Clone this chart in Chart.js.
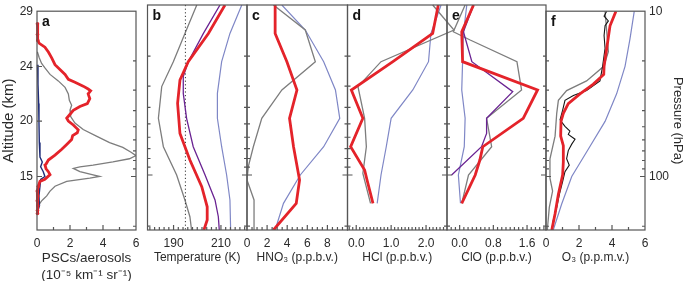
<!DOCTYPE html>
<html><head><meta charset="utf-8">
<script src="https://cdn.jsdelivr.net/npm/chart.js@4.4.1/dist/chart.umd.min.js"></script>
<style>
html,body{margin:0;padding:0;background:#fff;}
#wrap{position:relative;width:685px;height:281px;overflow:hidden;}
canvas{position:absolute;left:0;top:0;}
</style></head>
<body><div id="wrap">
<canvas id="pa" width="685" height="281"></canvas>
<canvas id="pb" width="685" height="281"></canvas>
<canvas id="pc" width="685" height="281"></canvas>
<canvas id="pd" width="685" height="281"></canvas>
<canvas id="pe" width="685" height="281"></canvas>
<canvas id="pf" width="685" height="281"></canvas>
</div>
<script>
// ---------- vertical axis (pressure, hPa) ----------
const pressureRange = [10, 210.7];
const pressureTicks = [10, 100];
const altitudeLabels = ['29', '24', '20', '15'];
const altitudeTickPressures = [10, 21.6, 46.2, 100];
const pressureMinorTicks = [20, 30, 40, 50, 60, 70, 80, 90, 200];

// ---------- panel a: PSCs / aerosols ----------
const aTicks = [0, 2, 4, 6];
const aRedX = [0.03,0.03,0.05,0.14,0.48,0.69,0.89,1.09,1.39,1.7,1.9,2.3,2.8,3.1,3.25,3.1,3.2,3.05,2.6,2.2,1.9,1.8,1.9,2.2,2.5,2.44,2.16,2.1,1.8,1.5,1.09,0.69,0.55,0.48,0.55,0.69,0.79,0.48,0.18,0.08,0.02,0.05,0.02,0.05,0.03,0.03];
const aRedP = [11.93,13.84,15.02,15.65,16.5,17.67,19.15,21.07,22.54,24.12,25.81,26.9,28.4,29.56,30.3,31.62,33.84,36.22,37.7,39.8,43.2,44.38,46.2,48.8,52.2,54.38,56.6,59.8,64.0,68.5,74.3,79.5,84.0,85.1,89.8,93.5,97.4,104.1,107.0,114.5,122.5,131.1,140.3,150.2,160.7,167.3];
const aGrayX = [0.02,0.14,0.28,0.48,0.79,1.29,1.7,1.9,1.96,2.1,2.0,2.04,2.3,2.8,3.6,4.4,5.2,5.7,6.0,5.6,4.6,3.4,2.6,2.2,2.6,3.4,3.8,3.2,1.8,1.09,0.79,0.59,0.38,0.28,0.14,0.08];
const aGrayP = [17.6,19.2,20.7,22.05,24.12,26.4,28.9,31.62,34.6,37.1,39.7,43.4,47.5,52.0,57.0,62.3,66.6,71.3,74.8,78.1,81.65,85.4,87.4,89.4,93.5,97.8,100,102.3,107,114.5,122.5,131.1,137.2,140.3,146.8,153.8];
const aNavyX = [0.03,0.06,0.1,0.12,0.14,0.18,0.32,0.22,0.38,0.48,0.22,0.18,0.12,0.15,0.06];
const aNavyP = [21.07,27.62,36.22,47.49,62.27,76.3,81.65,87.37,93.5,100,104.1,114.5,131.1,150.2,160.7];

// ---------- panel b: temperature ----------
const bTicks = [190, 210];
const bNatTemp = 195;
const bGrayT = [199.8,194.8,189.9,185,183.6,185.7,191.3,194.8,196.9,197.6];
const bGrayP = [10,14.7,21.55,30.2,46.4,68.2,100,140.3,176.0,210.7];
const bPurpleT = [209.6,202.6,196.2,194.1,194.1,195.5,198.3,203.3,207.5,208.9,209.3];
const bPurpleP = [10,14.7,21.55,26.4,33.1,46.4,68.2,100,140.3,176.0,210.7];
const bRedT = [211.7,204.7,196.2,192.7,191.7,192.7,196.9,201.9,204.2,204.2,202.8];
const bRedP = [10,14.7,21.55,27.62,37.9,57.0,81.65,117.2,153.8,184.0,210.7];
const bBlueT = [218.8,213.8,210.3,208.5,208.5,210.3,212.4,213.8,214.1];
const bBlueP = [10,14.7,21.55,33.1,46.4,68.2,100,140.3,210.7];

// ---------- panel c: HNO3 ----------
const cTicks = [0, 2, 4, 6, 8];
const cRedX = [2.8,2.8,3.97,4.97,4.23,4.63,5.23,4.9,2.63];
const cRedP = [10,14.7,21.55,31.62,46.4,68.2,107,146.8,210.7];
const cGrayX = [2.63,5.8,6.8,3.47,1.47,0.63,0.13,0.0,0.7,0.7];
const cGrayP = [10,14.03,21.55,31.62,46.4,68.2,89.4,107,140.3,210.7];
const cBlueX = [3.47,5.8,7.63,8.8,9.23,7.63,5.3,3.63,2.8];
const cBlueP = [10,14.03,21.55,31.62,46.4,68.2,100,146.8,210.7];

// ---------- panel d: HCl ----------
const dTicks = [0, 1, 2];
const dRedX = [2.35,2.19,1.05,-0.14,0.19,-0.16,0.24,0.31,0.48];
const dRedP = [10,14.7,21.55,31.62,46.4,68.2,93.5,107,146.8];
const dGrayX = [2.19,2.8,0.71,0.05,0.24,0.29,0.19,0.41];
const dGrayP = [10,14.03,21.55,30.2,46.4,68.2,97.8,146.8];
const dBlueX = [2.43,2.14,2.07,1.62,1.0,0.86,0.71,0.6];
const dBlueP = [10,14.7,21.55,31.62,46.4,68.2,100,146.8];

// ---------- panel e: ClO ----------
const eTicks = [0, 0.8, 1.6];
const eRedX = [0.33,0.05,0.07,1.85,1.51,0.55,0.48,0.37,0.05];
const eRedP = [10,14.36,21.55,31.62,46.4,68.2,81.65,100,146.8];
const eGrayX = [0.13,-0.15,0.25,1.36,1.47,0.64,0.76,0.21,0.05];
const eGrayP = [10,14.36,16.07,21.55,31.62,46.4,68.2,100,146.8];
const ePurpleX = [0.33,0.09,0.29,1.26,0.64,0.64,0.52,-0.19];
const ePurpleP = [10,14.36,21.55,32.35,46.4,57.0,68.2,100];
const eBlueX = [0.17,0.09,0.05,0.13,0.11,-0.03,0.02];
const eBlueP = [10,14.7,31.62,46.4,68.2,100,146.8];

// ---------- panel f: O3 ----------
const fTicks = [0, 2, 4, 6];
const fRedX = [4.24,3.88,3.52,3.5,2.87,2.06,1.35,1.05,0.91,0.89,1.05,1.05,1.01,0.75,0.55,0.35];
const fRedP = [10,12.25,21.55,24.12,27.62,31.62,36.22,41.47,46.4,57.0,65.1,81.65,97.8,128.2,168.0,210.7];
const fBlackX = [3.68,3.52,3.78,3.58,3.52,3.58,3.43,3.27,2.46,1.66,1.15,1.01,0.85,1.15,1.45,1.35,1.76,1.56,1.35,1.25,1.41,1.15,1.01,0.81,0.65,0.44,0.35];
const fBlackP = [10,10.7,11.45,12.25,14.03,16.8,21.55,26.4,30.2,32.35,34.6,39.7,45.4,49.7,53.2,55.6,59.5,63.7,69.7,78.1,85.4,93.5,107,128.2,153.8,184.0,210.7];
const fGrayX = [3.58,3.78,3.5,2.46,1.25,0.75,0.65,0.55,0.24,0.24,0.4,0.2,0.08];
const fGrayP = [10,17.6,21.55,26.4,30.2,34.6,41.47,57.0,78.1,102.3,122.5,153.8,210.7];
const fBlueX = [5.35,5.09,4.79,4.28,3.58,2.57,1.56,0.95,0.44];
const fBlueP = [10,14.7,21.55,31.62,46.4,68.2,100,146.8,210.7];

// ---------- styles ----------
const RED = {borderColor:'#e4232a', borderWidth:2.8};
const GRAY = {borderColor:'#7d7d7d', borderWidth:1.3};
const BLUE = {borderColor:'#7f87c6', borderWidth:1.2};
const PURPLE = {borderColor:'#6a2392', borderWidth:1.3};
const BLACK = {borderColor:'#141414', borderWidth:1.1};
const NAVY = {borderColor:'#1d2b78', borderWidth:1.4};
const FONT = "'Liberation Sans', Arial, Helvetica, sans-serif";
const TXT = '#2a2a2a';

Chart.defaults.font.family = FONT;
Chart.defaults.font.size = 12;
Chart.defaults.color = TXT;

function pts(xs, ps){ return xs.map((x,i)=>({x:x, y:ps[i]})); }
function line(xs, ps, style, extra){
  return Object.assign({data: pts(xs, ps), showLine:true, pointRadius:0, fill:false, tension:0}, style, extra||{});
}

const framePlugin = {
  id: 'frame',
  afterDatasetsDraw(chart, args, o){
    const ctx = chart.ctx;
    const {left, top, right, bottom} = chart.chartArea;
    const xs = chart.scales.x, ys = chart.scales.y;
    ctx.save();
    ctx.strokeStyle = '#555';
    ctx.lineWidth = 1.2;
    ctx.beginPath();
    const n = Math.round((xs.max - o.minorStart) / o.minorStep);
    for (let i = 0; i <= n; i++) {
      const px = xs.getPixelForValue(o.minorStart + i * o.minorStep);
      if (px < left + 1 || px > right - 1) continue;
      ctx.moveTo(px, bottom); ctx.lineTo(px, bottom - 3);
    }
    for (const v of o.major) {
      const px = xs.getPixelForValue(v);
      if (px < left + 1 || px > right - 1) continue;
      ctx.moveTo(px, bottom); ctx.lineTo(px, bottom - 5);
    }
    const side = (list, x, dir, len) => {
      for (const p of list) {
        const py = ys.getPixelForValue(p);
        if (py < top + 1 || py > bottom - 1) continue;
        ctx.moveTo(x, py); ctx.lineTo(x + dir * len, py);
      }
    };
    side(o.leftMinor, left, 1, 3); side(o.leftMajor, left, 1, 5);
    side(pressureMinorTicks, right, -1, 3); side([100], right, -1, 5);
    ctx.stroke();
    ctx.strokeRect(left, top, right - left, bottom - top);
    ctx.fillStyle = '#111';
    ctx.font = "bold 14px " + FONT;
    ctx.textBaseline = 'middle';
    ctx.textAlign = 'left';
    ctx.fillText(o.label, left + 5, top + 11);
    ctx.restore();
  }
};

function makePanel(id, c){
  const yScale = {
    type:'logarithmic', reverse:true, min: pressureRange[0], max: pressureRange[1],
    display: !!c.yAxis, position: c.yAxis ? c.yAxis.position : 'left',
    grid:{display:false, drawTicks:false}, border:{display:false},
    afterBuildTicks: s => { s.ticks = (c.yAxis ? c.yAxis.values : pressureTicks).map(v => ({value:v})); },
    afterFit: s => { if (c.yAxis) s.width = c.yAxis.width; },
    ticks:{ padding:4, color:TXT, font:{size:12}, autoSkip:false,
      callback: (v, i) => c.yAxis ? c.yAxis.labels[i] : '' },
    title: c.yAxis ? {display:true, text:c.yAxis.title, color:TXT, font:{size:c.yAxis.tsize}, padding:{top:c.yAxis.tpad, bottom:0}} : {display:false}
  };
  return new Chart(document.getElementById(id), {
    type:'scatter',
    data:{datasets: c.datasets},
    options:{
      responsive:false, animation:false, devicePixelRatio:1,
      events: [],
      layout:{padding:{left:c.padL, right:c.padR, top:5, bottom:0}},
      plugins:{legend:{display:false}, tooltip:{enabled:false},
        frame:{label:c.label, minorStart:c.minorStart, minorStep:c.minorStep, major:c.xTicks,
               leftMinor:c.leftMinor, leftMajor:c.leftMajor}},
      scales:{
        x:{type:'linear', min:c.xMin, max:c.xMax,
           grid:{display:false, drawTicks:false}, border:{display:false},
           afterBuildTicks: s => { s.ticks = c.xTicks.map(v => ({value:v})); },
           afterFit: s => { s.height = 51; },
           ticks:{padding:6, color:TXT, font:{size:12}, autoSkip:false, maxRotation:0,
             callback: v => c.fmt ? c.fmt(v) : String(v)},
           title:{display:true, text:c.xTitle, color:TXT, font:{size:c.tSize||12, lineHeight:c.tLH||1.2},
             padding:{top:0, bottom:c.tPadB}}
        },
        y: yScale
      }
    },
    plugins:[framePlugin]
  });
}

const redDots = {pointRadius: ctx => (ctx.raw && ctx.raw.x < 0.1) ? 1.8 : 0,
  pointBackgroundColor:'#e4232a', pointBorderWidth:0, clip:false};

makePanel('pa', {label:'a', padL:0, padR:685-136, xMin:0, xMax:6, xTicks:aTicks,
  minorStart:0, minorStep:1,
  xTitle:['PSCs/aerosols', '(10\u207B\u2075 km\u207B\u00B9 sr\u207B\u00B9)'], tSize:13.5, tLH:1.26, tPadB:-2.5,
  leftMinor:[], leftMajor:[21.6, 46.2, 100],
  yAxis:{position:'left', width:37, values:altitudeTickPressures, labels:altitudeLabels, title:'Altitude (km)', tsize:15, tpad:0},
  datasets:[ line(aRedX, aRedP, RED, redDots), line(aNavyX, aNavyP, NAVY, {clip:false}), line(aGrayX, aGrayP, GRAY) ]});

makePanel('pb', {label:'b', padL:147.5, padR:685-247, xMin:179, xMax:221, xTicks:bTicks,
  minorStart:180, minorStep:2, xTitle:'Temperature (K)', tPadB:15.8,
  leftMinor:pressureMinorTicks, leftMajor:[100],
  datasets:[ line(bRedT, bRedP, RED), line(bPurpleT, bPurpleP, PURPLE),
    line([bNatTemp, bNatTemp], pressureRange, {borderColor:'#333', borderWidth:1, borderDash:[1.2,2.4]}),
    line(bGrayT, bGrayP, GRAY), line(bBlueT, bBlueP, BLUE) ]});

makePanel('pc', {label:'c', padL:247, padR:685-347.5, xMin:0, xMax:10, xTicks:cTicks,
  minorStart:0, minorStep:0.5, xTitle:'HNO\u2083 (p.p.b.v.)', tPadB:15.8,
  leftMinor:pressureMinorTicks, leftMajor:[100],
  datasets:[ line(cRedX, cRedP, RED), line(cGrayX, cGrayP, GRAY), line(cBlueX, cBlueP, BLUE) ]});

makePanel('pd', {label:'d', padL:347.5, padR:685-447, xMin:-0.25, xMax:2.6, xTicks:dTicks,
  minorStart:-0.2, minorStep:0.1, xTitle:'HCl (p.p.b.v.)', tPadB:15.8, fmt: v => v.toFixed(1),
  leftMinor:pressureMinorTicks, leftMajor:[100],
  datasets:[ line(dRedX, dRedP, RED), line(dGrayX, dGrayP, GRAY, {clip:false}), line(dBlueX, dBlueP, BLUE) ]});

makePanel('pe', {label:'e', padL:447, padR:685-546, xMin:-0.3, xMax:2.05, xTicks:eTicks,
  minorStart:-0.3, minorStep:0.1, xTitle:'ClO (p.p.b.v.)', tPadB:15.8, fmt: v => v.toFixed(1),
  leftMinor:pressureMinorTicks, leftMajor:[100],
  datasets:[ line(eRedX, eRedP, RED), line(ePurpleX, ePurpleP, PURPLE), line(eGrayX, eGrayP, GRAY), line(eBlueX, eBlueP, BLUE) ]});

makePanel('pf', {label:'f', padL:546, padR:0, xMin:0, xMax:6, xTicks:fTicks,
  minorStart:0, minorStep:1, xTitle:'O\u2083 (p.p.m.v.)', tPadB:15.8,
  leftMinor:pressureMinorTicks, leftMajor:[100],
  yAxis:{position:'right', width:40, values:pressureTicks, labels:pressureTicks.map(String), title:'Pressure (hPa)', tsize:13, tpad:0},
  datasets:[ line(fRedX, fRedP, RED), line(fBlackX, fBlackP, BLACK), line(fGrayX, fGrayP, GRAY), line(fBlueX, fBlueP, BLUE) ]});
</script>
</body></html>
